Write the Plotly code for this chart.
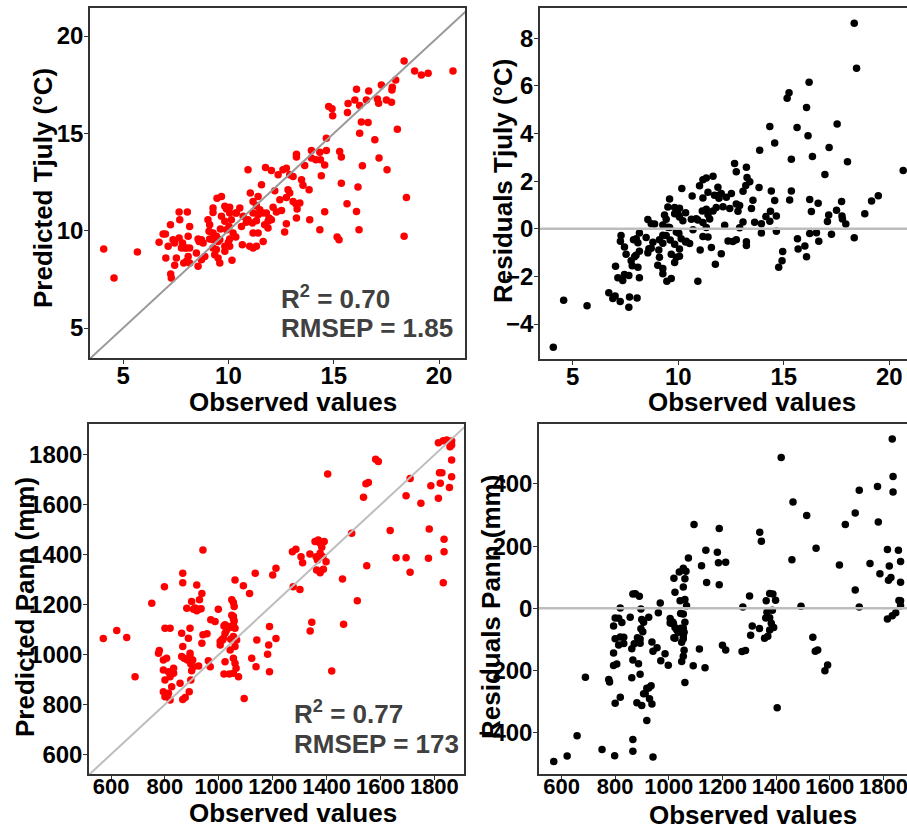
import numpy as np
import plotly.graph_objects as go

# ---- July temperature (°C): observed vs. predicted ----
tjuly_obs = [
    4.08, 4.57, 5.68, 18.34, 18.84, 19.16, 19.48, 20.66, 17.94, 17.26, 17.78, 17.76, 16.08, 16.66,
    17.07, 17.50, 17.74, 17.13, 15.68, 16.00, 16.23, 16.55, 14.76, 14.92, 14.95, 15.65, 16.31, 16.63,
    16.23, 18.02, 16.95, 14.65, 13.94, 14.34, 14.65, 14.37, 14.57, 15.28, 15.36, 13.23, 13.23, 13.62,
    13.94, 14.15, 17.15, 16.36, 17.53, 14.41, 15.36, 16.15, 15.63, 16.08, 18.45, 14.57, 14.34, 16.20,
    15.16, 15.25, 18.34, 13.86, 12.67, 12.75, 13.23, 13.26, 13.39, 13.83, 13.47, 13.54, 12.91, 13.07,
    12.59, 12.75, 12.36, 12.04, 11.76, 10.93, 12.83, 12.91, 12.75, 13.07, 13.20, 12.44, 12.20, 12.52,
    12.28, 11.57, 12.12, 11.80, 11.93, 11.88, 12.04, 11.72, 11.88, 11.41, 11.04, 11.17, 11.33, 11.49,
    11.17, 11.41, 11.65, 10.54, 10.35, 10.70, 10.93, 10.85, 11.14, 10.62, 11.33, 11.17, 11.41, 11.65,
    11.01, 11.17, 11.33, 10.22, 10.35, 10.66, 10.06, 10.00, 9.83, 10.06, 9.83, 10.17, 9.59, 9.91,
    10.03, 9.62, 9.83, 10.14, 9.67, 10.06, 10.38, 9.91, 10.06, 9.83, 9.46, 9.67, 9.27, 9.27,
    9.03, 9.11, 9.08, 9.27, 9.43, 9.11, 9.27, 9.51, 8.72, 8.80, 9.27, 9.43, 9.35, 9.51,
    9.59, 8.88, 8.72, 8.56, 8.48, 8.56, 8.61, 8.16, 8.09, 8.16, 7.88, 8.01, 7.53, 7.77,
    7.93, 7.66, 7.82, 8.09, 8.16, 8.05, 7.66, 7.69, 7.25, 7.37, 7.45, 7.14, 7.03, 6.71,
    6.90, 7.01, 7.26, 7.29, 7.45, 8.00,
]
tjuly_pred = [
    9.06, 7.57, 8.91, 18.72, 18.21, 18.00, 18.09, 18.21, 17.74, 17.49, 17.37, 17.23, 17.26, 17.18,
    16.77, 16.72, 16.60, 16.55, 16.53, 16.72, 16.43, 16.72, 16.38, 16.26, 15.91, 16.07, 15.59, 15.56,
    15.00, 15.21, 14.67, 14.75, 14.12, 14.03, 14.12, 13.64, 13.38, 14.07, 13.78, 13.93, 13.78, 13.35,
    13.73, 13.64, 13.74, 13.33, 13.13, 12.82, 12.44, 12.24, 11.38, 10.99, 11.71, 10.97, 10.05, 10.05,
    9.68, 9.54, 9.71, 10.56, 9.93, 10.36, 10.65, 11.11, 11.42, 12.10, 12.62, 12.34, 12.87, 12.79,
    13.13, 13.21, 12.87, 13.09, 13.25, 13.13, 12.10, 11.93, 11.71, 11.50, 11.38, 11.59, 12.05, 11.04,
    10.96, 12.36, 11.20, 10.91, 10.65, 10.48, 10.56, 10.31, 10.14, 11.76, 11.93, 11.50, 11.28, 11.08,
    10.91, 10.82, 10.91, 11.16, 10.91, 10.74, 10.56, 10.43, 10.39, 10.22, 10.51, 9.88, 9.88, 9.45,
    9.20, 9.11, 9.20, 9.88, 9.68, 9.28, 9.57, 9.40, 9.20, 9.20, 8.94, 8.48, 9.54, 10.05,
    10.22, 10.09, 10.48, 10.56, 10.74, 10.91, 10.91, 11.11, 11.21, 11.25, 11.67, 11.76, 11.16, 10.94,
    10.56, 10.31, 9.97, 9.88, 9.71, 9.57, 9.54, 9.45, 9.54, 9.37, 9.11, 9.03, 8.77, 8.60,
    8.34, 8.68, 8.51, 8.17, 8.85, 9.57, 9.45, 9.11, 8.68, 8.34, 8.34, 8.43, 8.60, 9.11,
    9.11, 9.62, 9.37, 9.71, 10.22, 10.96, 10.96, 10.56, 10.31, 9.54, 9.37, 9.20, 8.60, 9.40,
    9.83, 9.83, 7.78, 7.57, 8.22, 9.11,
]

# ---- Annual precipitation (mm): observed vs. predicted ----
pann_obs = [
    571, 621, 658, 689, 751, 776, 779, 798, 800, 819, 794, 806, 794, 813, 832, 800, 819, 794, 813, 800,
    819, 825, 832, 856, 862, 866, 862, 871, 866, 875, 866, 866, 881, 887, 893, 903, 896, 883, 893, 899,
    906, 925, 918, 893, 928, 937, 899, 896, 890, 906, 925, 937, 941, 956, 941, 968, 961, 970, 986, 998,
    1005, 1005, 1019, 1029, 1035, 1014, 1023, 1019, 1039, 1042, 1048, 1054, 1054, 1057, 1054, 1060, 1054, 1066, 1057, 1060,
    1060, 1054, 1060, 1064, 1054, 1073, 1091, 1094, 1114, 1122, 1138, 1135, 1141, 1188, 1185, 1181, 1188, 1200, 1212, 1212,
    1273, 1286, 1276, 1301, 1305, 1311, 1338, 1357, 1369, 1376, 1382, 1361, 1366, 1376, 1386, 1363, 1376, 1388, 1398, 1391,
    1339, 1345, 1404, 1419, 1459, 1463, 1493, 1514, 1537, 1546, 1555, 1549, 1582, 1592, 1636, 1658, 1695, 1695, 1710, 1710,
    1750, 1781, 1778, 1787, 1815, 1833, 1846, 1864, 1864, 1858, 1819, 1828, 1815, 1822, 1856, 1864, 1864, 1836, 1836, 1833,
    1023, 1045, 1023, 1017, 1011, 1044, 1048, 1054, 912, 934, 918,
]
pann_pred = [
    1064, 1096, 1068, 911, 1205, 1005, 1016, 1272, 1105, 1105, 978, 985, 938, 931, 925, 898, 911, 851, 845, 831,
    818, 871, 945, 885, 1085, 1032, 992, 985, 820, 828, 1326, 1288, 1185, 1065, 992, 978, 962, 978, 1005, 1212,
    1181, 1181, 1279, 1105, 1219, 1245, 935, 898, 851, 951, 954, 1045, 1079, 1083, 1419, 951, 975, 1139, 1132, 1181,
    1052, 1038, 1114, 1098, 1112, 1058, 971, 922, 922, 1018, 1219, 1208, 1152, 1134, 1118, 1105, 1072, 1058, 1192, 1299,
    1032, 985, 965, 945, 925, 911, 1276, 824, 1245, 985, 951, 1326, 1058, 1112, 1038, 1001, 931, 1319, 1346, 1064,
    1412, 1422, 1272, 1261, 1392, 1368, 1403, 1453, 1459, 1446, 1430, 1392, 1379, 1406, 1392, 1339, 1328, 1342, 1372, 1453,
    1094, 1129, 1724, 934, 1303, 1121, 1486, 1215, 1630, 1684, 1689, 1356, 1783, 1774, 1497, 1388, 1636, 1388, 1706, 1330,
    1606, 1503, 1386, 1676, 1849, 1857, 1860, 1856, 1840, 1833, 1729, 1729, 1626, 1686, 1669, 1780, 1713, 1462, 1412, 1288,
    1119, 1109, 1085, 1065, 1059, 1061, 1157, 1143, 1186, 1183, 1175,
]

tjuly_resid = np.array(tjuly_obs) - np.array(tjuly_pred)
pann_resid = np.array(pann_obs) - np.array(pann_pred)

# Axis ranges and ticks
tj_range = [3.43, 21.23]
tj_pred_range = [3.46, 21.44]
tj_res_xrange = [3.45, 20.84]
tj_res_yrange = [-5.47, 9.27]
pa_xrange = [518, 1910]
pa_yrange = [521, 1924]
pa_res_xrange = [516, 1888]
pa_res_yrange = [-533, 593]

tj_ticks = [5, 10, 15, 20]
tj_res_ticks = [-4, -2, 0, 2, 4, 6, 8]
pa_ticks = [600, 800, 1000, 1200, 1400, 1600, 1800]
pa_res_ticks = [-400, -200, 0, 200, 400]

W, H = 907, 832


def px(x):
    return x / W


def py(y):
    return 1 - y / H


FONT = "Liberation Sans, Arial, sans-serif"


def axis(domain, rng, ticks, anchor, mirror=True, standoff=-4, size=24):
    return dict(
        domain=domain, range=rng, tickvals=ticks, anchor=anchor,
        showline=True, linecolor="#333333", linewidth=1.5, mirror=mirror,
        ticks="outside", ticklen=4, tickwidth=1, tickcolor="#333333",
        showgrid=False, zeroline=False, tickangle=0,
        tickfont=dict(family=FONT, size=size, color="black", weight="bold"),
        ticklabelstandoff=standoff, ticklabeloverflow="allow", automargin=False,
    )


fig = go.Figure()

pt = dict(size=7.5, line=dict(width=0))

# Top-left: predicted vs observed Tjuly, with the 1:1 line drawn over the points
fig.add_trace(go.Scatter(x=tjuly_obs, y=tjuly_pred, mode="markers",
                         marker=dict(color="#ff0000", **pt), xaxis="x", yaxis="y"))
fig.add_trace(go.Scatter(x=[0, 30], y=[0, 30], mode="lines",
                         line=dict(color="#9a9a9a", width=2), xaxis="x", yaxis="y"))

# Top-right: residuals Tjuly
fig.add_trace(go.Scatter(x=tjuly_obs, y=tjuly_resid, mode="markers",
                         marker=dict(color="black", **pt), xaxis="x2", yaxis="y2"))
fig.add_trace(go.Scatter(x=[0, 30], y=[0, 0], mode="lines",
                         line=dict(color="#bdbdbd", width=2.5), xaxis="x2", yaxis="y2"))

# Bottom-left: predicted vs observed Pann
fig.add_trace(go.Scatter(x=pann_obs, y=pann_pred, mode="markers",
                         marker=dict(color="#ff0000", **pt), xaxis="x3", yaxis="y3"))
fig.add_trace(go.Scatter(x=[0, 3000], y=[0, 3000], mode="lines",
                         line=dict(color="#bdbdbd", width=2), xaxis="x3", yaxis="y3"))

# Bottom-right: residuals Pann
fig.add_trace(go.Scatter(x=pann_obs, y=pann_resid, mode="markers",
                         marker=dict(color="black", **pt), xaxis="x4", yaxis="y4"))
fig.add_trace(go.Scatter(x=[0, 3000], y=[0, 0], mode="lines",
                         line=dict(color="#bdbdbd", width=2.5), xaxis="x4", yaxis="y4"))

title_font = dict(family=FONT, size=26, color="black", weight="bold")
stat_font = dict(family=FONT, size=26, color="#404040", weight="bold")


def label(text, x, y, angle=0, font=title_font, xanchor="center"):
    return dict(text=text, x=px(x), y=py(y), xref="paper", yref="paper",
                xanchor=xanchor, yanchor="middle", showarrow=False,
                textangle=angle, font=font)


annotations = [
    label("Observed values", 293, 402),
    label("Observed values", 752, 402),
    label("Observed values", 293, 813),
    label("Observed values", 753, 815),
    label("Predicted Tjuly (°C)", 43, 188, -90),
    label("Residuals Tjuly (°C)", 503, 181, -90),
    label("Predicted Pann (mm)", 25, 607, -90),
    label("Residuals Pann (mm)", 491, 607, -90),
    label("R<sup>2</sup> = 0.70", 279, 297, font=stat_font, xanchor="left"),
    label("RMSEP = 1.85", 279, 328, font=stat_font, xanchor="left"),
    label("R<sup>2</sup> = 0.77", 292, 712, font=stat_font, xanchor="left"),
    label("RMSEP = 173", 292, 744, font=stat_font, xanchor="left"),
]

fig.update_layout(
    width=W, height=H,
    margin=dict(l=0, r=0, t=0, b=0),
    paper_bgcolor="white", plot_bgcolor="white",
    showlegend=False,
    xaxis=axis([px(90), px(465)], tj_range, tj_ticks, "y", standoff=-9),
    yaxis=axis([py(358), py(8)], tj_pred_range, tj_ticks, "x"),
    xaxis2=axis([px(540), 1.0], tj_res_xrange, tj_ticks, "y2", standoff=-9),
    yaxis2=axis([py(359), py(8)], tj_res_yrange, tj_res_ticks, "x2", mirror=False),
    xaxis3=axis([px(89), px(464)], pa_xrange, pa_ticks, "y3", standoff=-12, size=22),
    yaxis3=axis([py(774), py(424)], pa_yrange, pa_ticks, "x3"),
    xaxis4=axis([px(539), 1.0], pa_res_xrange, pa_ticks, "y4", standoff=-12, size=22),
    yaxis4=axis([py(774), py(424)], pa_res_yrange, pa_res_ticks, "x4", mirror=False),
    annotations=annotations,
)

fig.write_html("out.html")
